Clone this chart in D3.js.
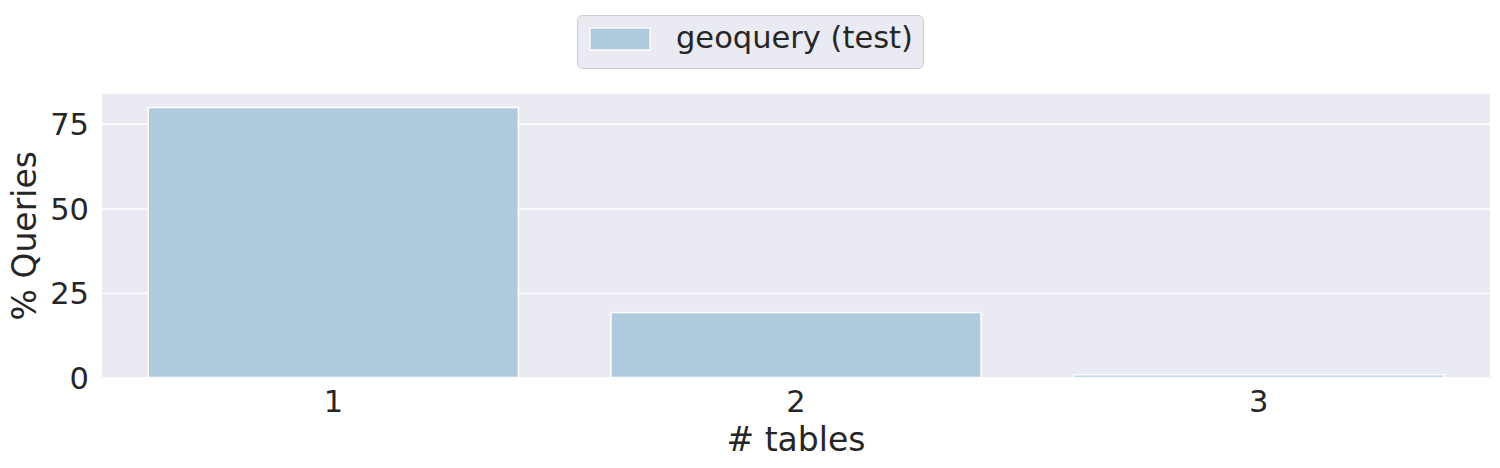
<!DOCTYPE html>
<html><head><meta charset="utf-8">
<script src="https://cdn.jsdelivr.net/npm/d3@7"></script>
<style>body{margin:0;background:#fff}svg{display:block}text{font-family:"DejaVu Sans",sans-serif;fill:#262626}</style>
</head><body>
<svg id="c" width="1500" height="468"></svg>
<script>
const categories = ["1", "2", "3"];
const values = [79.8, 19.2, 0.8];
const yTicks = [0, 25, 50, 75];
const seriesName = "geoquery (test)";

const svg = d3.select("#c");
const m = {left: 102, right: 1490, top: 94, bottom: 377.5};
const x = d3.scaleBand().domain(categories).range([m.left, m.right]).paddingInner(0.2).paddingOuter(0.1);
const y = d3.scaleLinear().domain([0, d3.max(values) * 1.05]).range([m.bottom, m.top]);

svg.append("rect").attr("x", m.left).attr("y", m.top).attr("width", m.right - m.left).attr("height", m.bottom - m.top).attr("fill", "#eaeaf2");

const yAxis = d3.axisLeft(y).tickValues(yTicks).tickSize(m.right - m.left).tickPadding(13);
const gy = svg.append("g").attr("transform", `translate(${m.right},0)`).call(yAxis);
gy.select(".domain").remove();
gy.selectAll(".tick line").attr("stroke", "#fff").attr("stroke-width", 1.3);
gy.selectAll(".tick text").attr("font-size", 30.5).style("fill", "#262626").attr("dy", "0.36em");

const xAxis = d3.axisBottom(x).tickSize(0).tickPadding(13);
const gx = svg.append("g").attr("transform", `translate(0,${m.bottom})`).call(xAxis);
gx.select(".domain").remove();
gx.selectAll(".tick text").attr("font-size", 30.5).style("fill", "#262626");

svg.selectAll(".bar").data(values).join("rect").attr("class", "bar")
  .attr("x", (d, i) => x(categories[i]))
  .attr("width", x.bandwidth())
  .attr("y", d => y(d))
  .attr("height", d => y(0) - y(d))
  .attr("fill", "#afcbdd").attr("stroke", "#fff").attr("stroke-width", 1.5);

svg.append("text").attr("x", (m.left + m.right) / 2).attr("y", 451).attr("text-anchor", "middle").attr("font-size", 33).text("# tables");
svg.append("text").attr("transform", `translate(36,${(m.top + m.bottom) / 2}) rotate(-90)`).attr("text-anchor", "middle").attr("font-size", 33).text("% Queries");

const lg = svg.append("g");
lg.append("rect").attr("x", 577.5).attr("y", 15.5).attr("width", 346).attr("height", 53).attr("rx", 5).attr("fill", "#eaeaf2").attr("stroke", "#cccccc").attr("stroke-width", 1);
lg.append("rect").attr("x", 590).attr("y", 28).attr("width", 60).attr("height", 22).attr("fill", "#afcbdd").attr("stroke", "#fff").attr("stroke-width", 1.3);
lg.append("text").attr("x", 676).attr("y", 48).attr("font-size", 30.5).text(seriesName);
</script>
</body></html>
